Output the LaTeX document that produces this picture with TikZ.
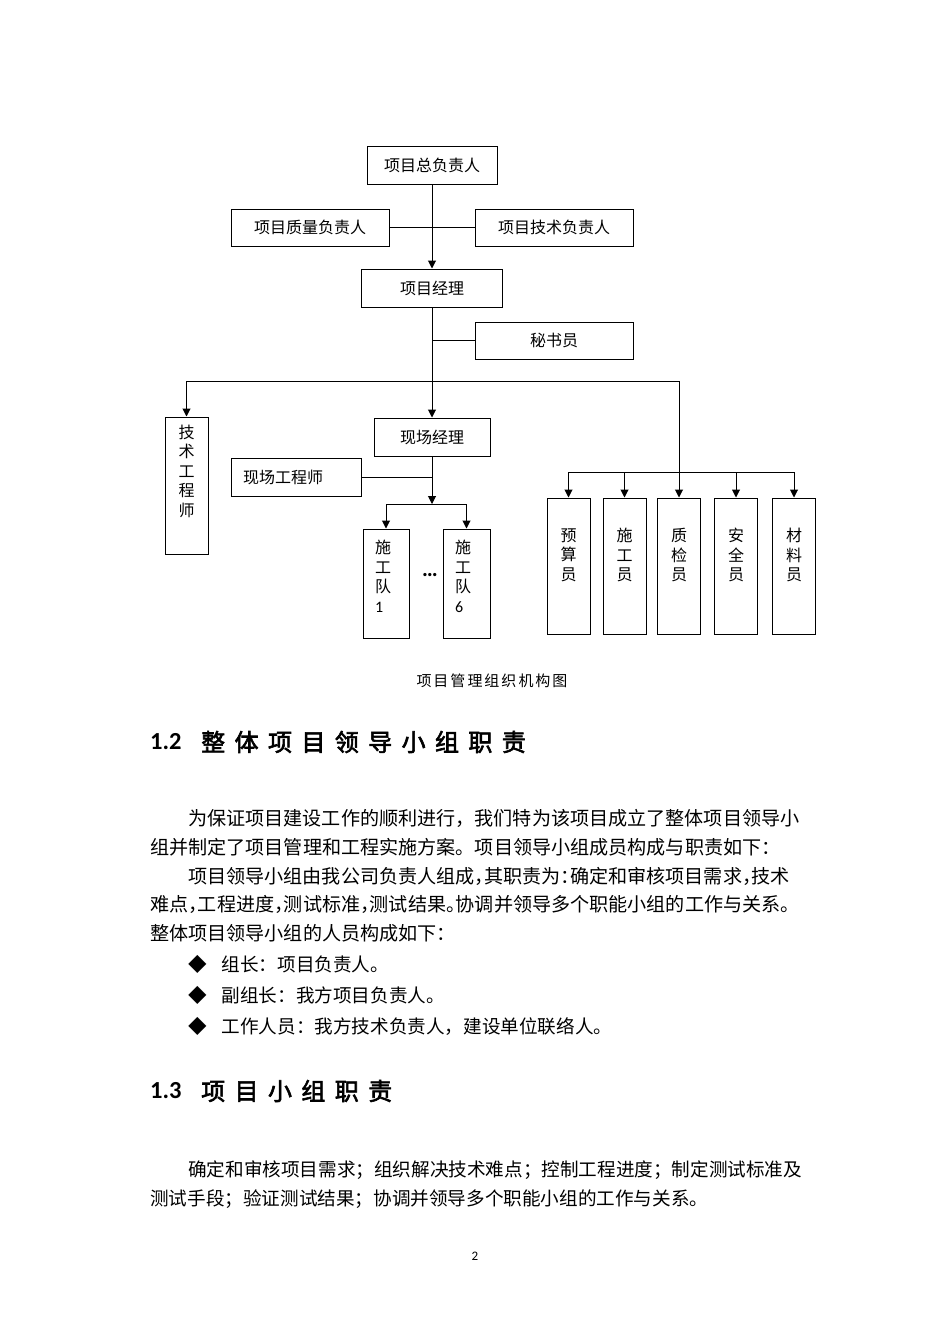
\documentclass[tikz,border=0pt]{standalone}
\usepackage{fontspec}
\setmainfont{Carlito}
\newfontfamily\cjk{Noto Sans CJK SC}
\newfontfamily\cjkbold[FakeBold=2.5]{Noto Sans CJK SC}
\newfontfamily\cjkhalf[RawFeature=+halt]{Noto Sans CJK SC}
\usetikzlibrary{arrows.meta,positioning}
% letter spaced text: \lsp ...\relax
\newdimen\lspk
\def\lsp#1{\ifx#1\relax\else#1\kern\lspk\expandafter\lsp\fi}
\tikzset{
    box/.style={draw, line width=1pt, inner sep=0pt, font=\cjk\fontsize{16}{19.5}\selectfont},
    vbox/.style={box, align=center, text depth=23pt, minimum width=43pt, minimum height=136pt},
    team/.style={box, align=left, text width=22pt, inner xsep=12pt, minimum height=109pt},
    link/.style={line width=1pt},
    arr/.style={link, -{Triangle[width=8pt,length=8pt]}},
    txt/.style={inner sep=0pt, anchor=west, font=\cjk\fontsize{19.1}{23}\selectfont},
    item/.style={inner sep=0pt, anchor=west, font=\cjk\fontsize{18.6}{22}\selectfont},
    headnum/.style={inner sep=0pt, anchor=west, font=\bfseries\fontsize{24.5}{28}\selectfont},
    headtxt/.style={inner sep=0pt, anchor=west, font=\cjkbold\fontsize{24}{28}\selectfont},
}
\begin{document}
\begin{tikzpicture}[x=1pt, y=-1pt]
    \fill[white] (0,0) rectangle (950,1344);
    \useasboundingbox (0,0) rectangle (950,1344);
    % chart
    \node[box, minimum width=130pt, minimum height=38pt] (zong) at (432,165) {项目总负责人};
    \node[box, minimum width=158pt, minimum height=37pt] (zhiliang) at (310,227.5) {项目质量负责人};
    \node[box, minimum width=158pt, minimum height=37pt] (jishu) at (554,227.5) {项目技术负责人};
    \node[box, minimum width=141pt, minimum height=38pt] (jingli) at (432,288) {项目经理};
    \node[box, minimum width=158pt, minimum height=37pt] (mishu) at (554,340.5) {秘书员};
    \node[vbox, minimum height=137pt, text depth=30pt] (gcs) at (186.5,485.5) {技\\术\\工\\程\\师};
    \node[box, minimum width=116pt, minimum height=38pt] (xcjl) at (432,437) {现场经理};
    \node[box, align=left, text width=106pt, inner xsep=12pt, minimum height=38pt] (xcgcs) at (296,477) {现场工程师};
    \node[team] (dui1) at (386,583.5) {施\\工\\队\\{\rmfamily 1}\\[-5pt]\mbox{}};
    \node[team, text width=23pt] (dui6) at (466.5,583.5) {施\\工\\队\\{\rmfamily 6}\\[-5pt]\mbox{}};
    \node[font=\bfseries\fontsize{22}{24}\selectfont, inner sep=0pt] (dots) at (430,575) {…};
    \node[vbox] (ys) at (568.5,566) {预\\算\\员};
    \node[vbox] (sg) at (624.5,566) {施\\工\\员};
    \node[vbox] (zj) at (679,566) {质\\检\\员};
    \node[vbox] (aq) at (736,566) {安\\全\\员};
    \node[vbox] (cl) at (794,566) {材\\料\\员};
    \coordinate (j1) at (432,381);
    \coordinate (j2) at (432,504);
    \coordinate (j3) at (679,472);
    \draw[arr] (zong.south) -- (jingli.north);
    \draw[link] (zhiliang.east) -- (jishu.west);
    \draw[link] (jingli.south) -- (j1);
    \draw[link] (mishu.west) -- (mishu.west -| jingli.south);
    \draw[arr] (j1) -- (xcjl.north);
    \draw[arr] (j1) -| (gcs.north);
    \draw[arr] (j1) -| (zj.north);
    \draw[arr] (xcjl.south) -- (j2);
    \draw[link] (xcgcs.east) -- (xcgcs.east -| xcjl.south);
    \draw[link] (j2 -| dui1.north) -- (j2 -| dui6.north);
    \draw[arr] (j2 -| dui1.north) -- (dui1.north);
    \draw[arr] (j2 -| dui6.north) -- (dui6.north);
    \draw[link] (j3 -| ys.north) -- (j3 -| cl.north);
    \foreach \n in {ys,sg,aq,cl}
        \draw[arr] (j3 -| \n.north) -- (\n.north);
    % caption and text
    \lspk=2pt
    \node[inner sep=0pt, font=\cjk\fontsize{15}{18}\selectfont] (cap) at (493,681) {\lsp 项目管理组织机构图\relax};
    \node[headnum] (h12n) at (150,742) {1.2};
    \lspk=9.4pt
    \node[headtxt] (h12) at (201,742) {\lsp 整体项目领导小组职责\relax};
    \node[txt] (p1) at (188,818) {为保证项目建设工作的顺利进行，我们特为该项目成立了整体项目领导小};
    \node[txt] (p2) at (150,847) {组并制定了项目管理和工程实施方案。项目领导小组成员构成与职责如下：};
    \node[txt] (p3) at (188,876) {项目领导小组由我公司负责人组成{\cjkhalf ，}其职责为{\cjkhalf ：}确定和审核项目需求{\cjkhalf ，}技术};
    \node[txt] (p4) at (150,904) {难点{\cjkhalf ，}工程进度{\cjkhalf ，}测试标准{\cjkhalf ，}测试结果{\cjkhalf 。}协调并领导多个职能小组的工作与关系。};
    \node[txt] (p5) at (150,933) {整体项目领导小组的人员构成如下：};
    \node[item] (b1) at (188,964) {◆\kern15pt 组长：项目负责人。};
    \node[item] (b2) at (188,995) {◆\kern15pt 副组长：我方项目负责人。};
    \node[item] (b3) at (188,1026) {◆\kern15pt 工作人员：我方技术负责人，建设单位联络人。};
    \node[headnum] (h13n) at (150,1091) {1.3};
    \node[headtxt] (h13) at (201,1091) {\lsp 项目小组职责\relax};
    \node[item] (q1) at (188,1170) {确定和审核项目需求；组织解决技术难点；控制工程进度；制定测试标准及};
    \node[item] (q2) at (150,1199) {测试手段；验证测试结果；协调并领导多个职能小组的工作与关系。};
    \node[inner sep=0pt, font=\fontsize{13}{15}\selectfont] (page) at (475,1256) {2};
\end{tikzpicture}
\end{document}
